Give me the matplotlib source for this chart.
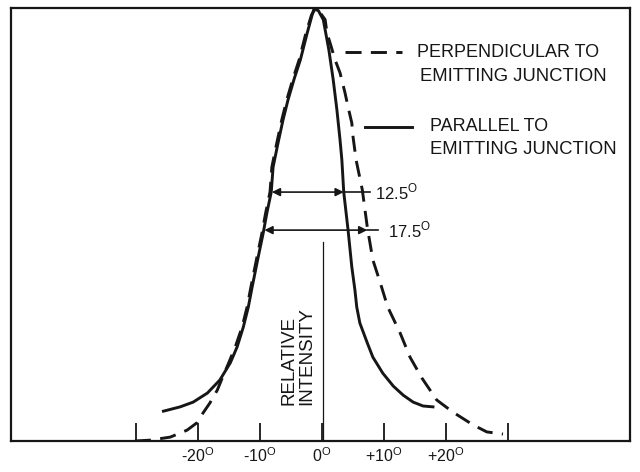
#!/usr/bin/env python3

import matplotlib
matplotlib.use('Agg')
import matplotlib.pyplot as plt

plt.rcParams['font.family'] = ['Liberation Sans', 'DejaVu Sans']
plt.rcParams['mathtext.fontset'] = 'custom'
plt.rcParams['mathtext.rm'] = 'Liberation Sans'

INK = '#161616'

# Parallel to emitting junction (solid), angle in degrees vs relative intensity
par_deg = [-25.6, -22.9, -20.8, -18.5, -16.5, -14.8, -13.7, -12.7, -11.9, -11.3,
           -10.3, -9.5, -8.9, -8.2, -7.9, -7.1, -6.3, -5.5, -4.5, -3.5, -2.4,
           -1.6, -1.3, -0.6, 0.2, 1.1, 1.8, 2.4, 2.9, 3.2, 3.5, 4.2, 4.8, 5.3,
           5.6, 6.1, 7.3, 8.2, 9.8, 11.5, 13.1, 14.7, 16.3, 17.9]
par_int = [0.069, 0.079, 0.090, 0.111, 0.141, 0.181, 0.218, 0.264, 0.310, 0.355,
           0.426, 0.481, 0.528, 0.576, 0.634, 0.690, 0.743, 0.789, 0.838, 0.882,
           0.944, 0.986, 1.000, 0.996, 0.975, 0.905, 0.836, 0.766, 0.697, 0.650,
           0.576, 0.488, 0.403, 0.350, 0.310, 0.273, 0.227, 0.194, 0.157, 0.127,
           0.106, 0.090, 0.081, 0.079]

# Perpendicular to emitting junction (dashed)
perp_deg = [-30.2, -27.7, -24.5, -21.8, -20.2, -19.2, -18.1, -16.9, -16.1, -15.0,
            -13.9, -12.9, -12.1, -11.5, -10.5, -9.7, -9.1, -8.4, -8.1, -7.3,
            -6.5, -5.7, -4.7, -3.7, -2.6, -1.7, -1.1, -0.3, 0.5, 0.8, 1.3, 2.1,
            2.9, 3.7, 4.2, 4.8, 5.0, 5.5, 6.5, 7.3, 8.2, 9.4, 10.6, 12.6, 14.2,
            16.1, 18.5, 21.1, 24.4, 26.6, 29.2]
perp_int = [0.000, 0.002, 0.009, 0.025, 0.042, 0.065, 0.088, 0.118, 0.146, 0.183,
            0.222, 0.264, 0.310, 0.355, 0.426, 0.481, 0.528, 0.576, 0.634, 0.690,
            0.743, 0.789, 0.838, 0.882, 0.944, 0.986, 1.000, 0.991, 0.975, 0.944,
            0.921, 0.882, 0.852, 0.806, 0.773, 0.736, 0.704, 0.650, 0.581, 0.495,
            0.419, 0.366, 0.310, 0.250, 0.194, 0.146, 0.095, 0.067, 0.037, 0.021,
            0.016]

tick_pos = [-30, -20, -10, 0, 10, 20, 30]
tick_lab = ['', '-20', '-10', '0', '+10', '+20', '']

# Beam width markers: level, left end, right end, extension end, label
width_levels = [0.576, 0.488]
width_left = [-8.1, -9.3]
width_right = [3.5, 7.3]
width_ext = [7.7, 9.0]
width_text = ['12.5', '17.5']
width_text_x = [8.6, 10.6]


def main():
	fig = plt.figure(figsize=(6.4, 4.72), dpi=100)
	ax = fig.add_axes([11 / 640, 31 / 472, 619 / 640, 433 / 472])

	ax.plot(par_deg, par_int, color=INK, lw=2.1, solid_joinstyle='round')
	ax.plot(perp_deg, perp_int, color=INK, lw=2.1, ls=(0, (5.5, 3.2)))

	# Relative intensity axis
	ax.plot([0.1, 0.1], [0, 0.46], color=INK, lw=0.9)
	ax.text(-3.9, 0.083, 'RELATIVE\nINTENSITY', rotation=90, ha='center', va='bottom',
			multialignment='left', fontsize=13.5, color=INK, linespacing=1.0)

	# Legend
	ax.plot([3.7, 12.9], [0.900, 0.900], color=INK, lw=2.1, ls=(0, (5.5, 3.2)))
	ax.text(15.3, 0.900, 'PERPENDICULAR TO', fontsize=13, va='center', color=INK)
	ax.text(15.8, 0.843, 'EMITTING JUNCTION', fontsize=13.3, va='center', color=INK)
	ax.plot([6.9, 14.5], [0.727, 0.727], color=INK, lw=2.1)
	ax.text(17.4, 0.727, 'PARALLEL TO', fontsize=13, va='center', color=INK)
	ax.text(17.4, 0.674, 'EMITTING JUNCTION', fontsize=13.3, va='center', color=INK)

	# Beam width arrows
	for lev, xl, xr, xe, lab, xt in zip(width_levels, width_left, width_right,
										width_ext, width_text, width_text_x):
		ax.annotate('', xy=(xl, lev), xytext=(xr, lev),
					arrowprops=dict(arrowstyle='<|-|>', color=INK, lw=1.2,
									mutation_scale=12, shrinkA=0, shrinkB=0))
		ax.plot([xr, xe], [lev, lev], color=INK, lw=1.2)
		ax.text(xt, lev, lab + r'$^{\rm O}$', fontsize=12, va='center', color=INK)

	ax.set_xlim(-50.2, 49.7)
	ax.set_ylim(0, 1.002)
	ax.set_xticks(tick_pos)
	ax.set_xticklabels([t + r'$^{\rm O}$' if t else '' for t in tick_lab], fontsize=11.5, color=INK)
	ax.tick_params(axis='x', direction='in', length=13, width=1.3, pad=4, colors=INK)
	ax.set_yticks([])
	for sp in ax.spines.values():
		sp.set_linewidth(1.6)
		sp.set_color(INK)

	plt.savefig('out.png', dpi=100)


if __name__ == '__main__':
	main()
